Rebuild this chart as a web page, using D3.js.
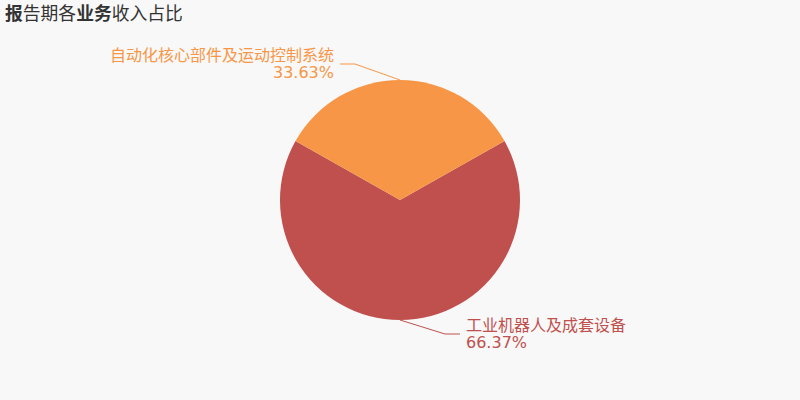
<!DOCTYPE html>
<html>
<head>
<meta charset="utf-8">
<script src="https://cdn.jsdelivr.net/npm/d3@7"></script>
<style>
  html, body { margin: 0; padding: 0; background: #f8f8f8; }
  svg { display: block; }
</style>
</head>
<body>
<div id="chart"></div>
<script>
// data
const categories = ["工业机器人及成套设备", "自动化核心部件及运动控制系统"];
const shares = [66.37, 33.63];
const colors = ["#c0504d", "#f79646"];

const width = 800, height = 400;
const cx = 400, cy = 200, radius = 120;

const svg = d3.select("#chart").append("svg")
    .attr("width", width)
    .attr("height", height)
    .style("font-family", "'DejaVu Sans', 'Noto Sans CJK SC', sans-serif");

svg.append("rect").attr("width", width).attr("height", height).attr("fill", "#f8f8f8");

// title with bold parts
const title = svg.append("text")
    .attr("x", 5)
    .attr("y", 20)
    .attr("fill", "#333")
    .style("font-size", "17.8px")
    .style("font-family", "'Noto Sans CJK SC', sans-serif");
[["报", true], ["告期各", false], ["业务", true], ["收入占比", false]].forEach(([t, b]) => {
    title.append("tspan").text(t).style("font-weight", b ? "bold" : "normal");
});

const data = categories.map((name, i) => ({ name, value: shares[i], color: colors[i] }));

// orange slice centred on the top
const start = (180 - shares[0] / 100 * 180) * Math.PI / 180;
const pie = d3.pie()
    .value(d => d.value)
    .sort(null)
    .startAngle(start)
    .endAngle(start + 2 * Math.PI);

const arc = d3.arc().innerRadius(0).outerRadius(radius);

const g = svg.append("g").attr("transform", `translate(${cx},${cy})`);

const arcs = pie(data);

g.selectAll("path.slice")
    .data(arcs)
    .join("path")
    .attr("class", "slice")
    .attr("d", arc)
    .attr("fill", d => d.data.color);

// labels
arcs.forEach(d => {
    const mid = (d.startAngle + d.endAngle) / 2;
    const p0 = [Math.sin(mid) * radius, -Math.cos(mid) * radius];
    const down = p0[1] > 0;
    const side = down ? 1 : -1;
    const p1 = [p0[0] + side * 45, p0[1] + (down ? 14 : -16)];
    const p2 = [p1[0] + side * 15, p1[1]];

    g.append("polyline")
        .attr("points", [p0, p1, p2].map(p => p.join(",")).join(" "))
        .attr("fill", "none")
        .attr("stroke", d.data.color)
        .attr("stroke-width", 1);

    const tx = p2[0] + side * 6;
    const anchor = down ? "start" : "end";
    const t = g.append("text")
        .attr("x", tx)
        .attr("fill", d.data.color)
        .attr("text-anchor", anchor)
        .style("font-size", "16px");
    t.append("tspan").attr("x", tx).attr("y", p2[1] - 3).text(d.data.name)
        .style("font-family", "'Noto Sans CJK SC', sans-serif");
    t.append("tspan").attr("x", tx).attr("y", p2[1] + 14).text(d.data.value.toFixed(2) + "%");
});
</script>
</body>
</html>
